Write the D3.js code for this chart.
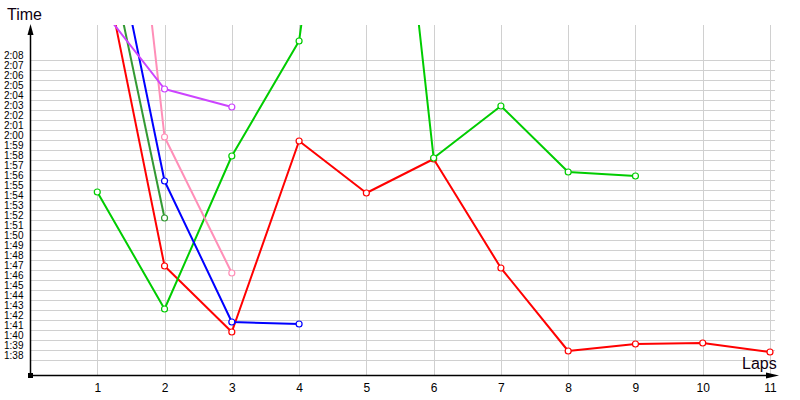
<!DOCTYPE html>
<html><head><meta charset="utf-8">
<script src="https://cdn.jsdelivr.net/npm/d3@7"></script>
<style>body{margin:0;background:#fff;} svg{display:block;}</style>
</head><body>
<svg id="c" width="800" height="400"></svg>
<script>
// ---- data (lap times in seconds) ----
const laps = [1,2,3,4,5,6,7,8,9,10,11];
const yTicks = d3.range(98, 129); // 1:38 .. 2:08
const redTimes = [140.6,107.4,100.8,119.9,114.7,118.1,107.2,98.9,99.6,99.7,98.8];
const greenTimes = [114.8,103.1,118.4,129.9,179,118.2,123.4,116.8,116.4];
const darkGreenTimes = [144.1,112.2];
const blueTimes = [148.6,115.9,101.8,101.6];
const pinkTimes = [180.2,120.3,106.7];
const violetTimes = [133.7,125.1,123.3];
const seriesNames = ["red","green","darkGreen","blue","pink","violet"];
const seriesColors = ["#ff0000","#00cc00","#339933","#0000ff","#ff8fb8","#cc44ff"];
const seriesData = [redTimes,greenTimes,darkGreenTimes,blueTimes,pinkTimes,violetTimes];

(function(){
const svg = d3.select("#c");
const pL = 30, pR = 775, pT = 25, pB = 375;
const x = d3.scaleLinear().domain([0, 11]).range([30, 770]);
const y = d3.scaleLinear().domain([98, 128]).range([360, 60]);
const fmt = s => Math.floor(s/60) + ":" + String(Math.round(s%60)).padStart(2,"0");

// horizontal grid + labels
const yAxis = svg.append("g").attr("transform", `translate(${pL},0)`)
  .call(d3.axisLeft(y).tickValues(yTicks).tickSize(-(pR-pL)).tickFormat(fmt));
yAxis.select(".domain").remove();
yAxis.selectAll(".tick line").attr("stroke", "#d0d0d0").attr("shape-rendering","crispEdges");
yAxis.selectAll(".tick text").attr("x", -26).attr("y", -1.5).attr("dy", 0)
  .attr("text-anchor", "start").attr("fill", "#000")
  .style("font-family", "'Liberation Sans', Arial, sans-serif").style("font-size", "10px");

// vertical grid + labels
const xAxis = svg.append("g").attr("transform", `translate(0,${pB})`)
  .call(d3.axisBottom(x).tickValues(laps).tickSize(-(pB-pT)).tickFormat(d3.format("d")));
xAxis.select(".domain").remove();
xAxis.selectAll(".tick line").attr("stroke", "#d0d0d0").attr("shape-rendering","crispEdges");
xAxis.selectAll(".tick text").attr("y", 17).attr("dy", 0).attr("fill", "#000")
  .style("font-family", "'Liberation Sans', Arial, sans-serif").style("font-size", "12px");

// axes lines with arrows
svg.append("line").attr("x1", 30.5).attr("x2", 30.5).attr("y1", 32).attr("y2", pB)
  .attr("stroke", "#000").attr("stroke-width", 1.5);
svg.append("path").attr("d", "M30.5,24 L27.5,35 L33.5,35 Z").attr("fill", "#000");
svg.append("line").attr("x1", 30).attr("x2", 770).attr("y1", 375.5).attr("y2", 375.5)
  .attr("stroke", "#000").attr("stroke-width", 1.5);
svg.append("path").attr("d", "M779,375.5 L766,372.5 L766,378.5 Z").attr("fill", "#000");
svg.append("rect").attr("x", 28).attr("y", 373).attr("width", 5).attr("height", 5).attr("fill", "#000");

// titles
svg.append("text").attr("x", 7).attr("y", 20).text("Time")
  .style("font-family", "'Liberation Sans', Arial, sans-serif").style("font-size", "16px").attr("fill", "#100010");
svg.append("text").attr("x", 742).attr("y", 369).text("Laps")
  .style("font-family", "'Liberation Sans', Arial, sans-serif").style("font-size", "16px").attr("fill", "#100010");

// clip
svg.append("clipPath").attr("id", "plot").append("rect")
  .attr("x", pL).attr("y", pT).attr("width", pR-pL).attr("height", pB-pT);

const line = d3.line().x((d,i) => x(laps[i])).y(d => y(d));
const plot = svg.append("g").attr("clip-path", "url(#plot)");
seriesData.forEach((arr, k) => {
  const g = plot.append("g").attr("class", seriesNames[k]);
  g.append("path").datum(arr).attr("d", line).attr("fill", "none")
    .attr("stroke", seriesColors[k]).attr("stroke-width", 2).attr("stroke-linejoin","round");
  g.selectAll("circle").data(arr).join("circle")
    .attr("cx", (d,i) => x(laps[i])).attr("cy", d => y(d)).attr("r", 3)
    .attr("fill", "#fff").attr("stroke", seriesColors[k]).attr("stroke-width", 1.2);
});
})();
</script>
</body></html>
